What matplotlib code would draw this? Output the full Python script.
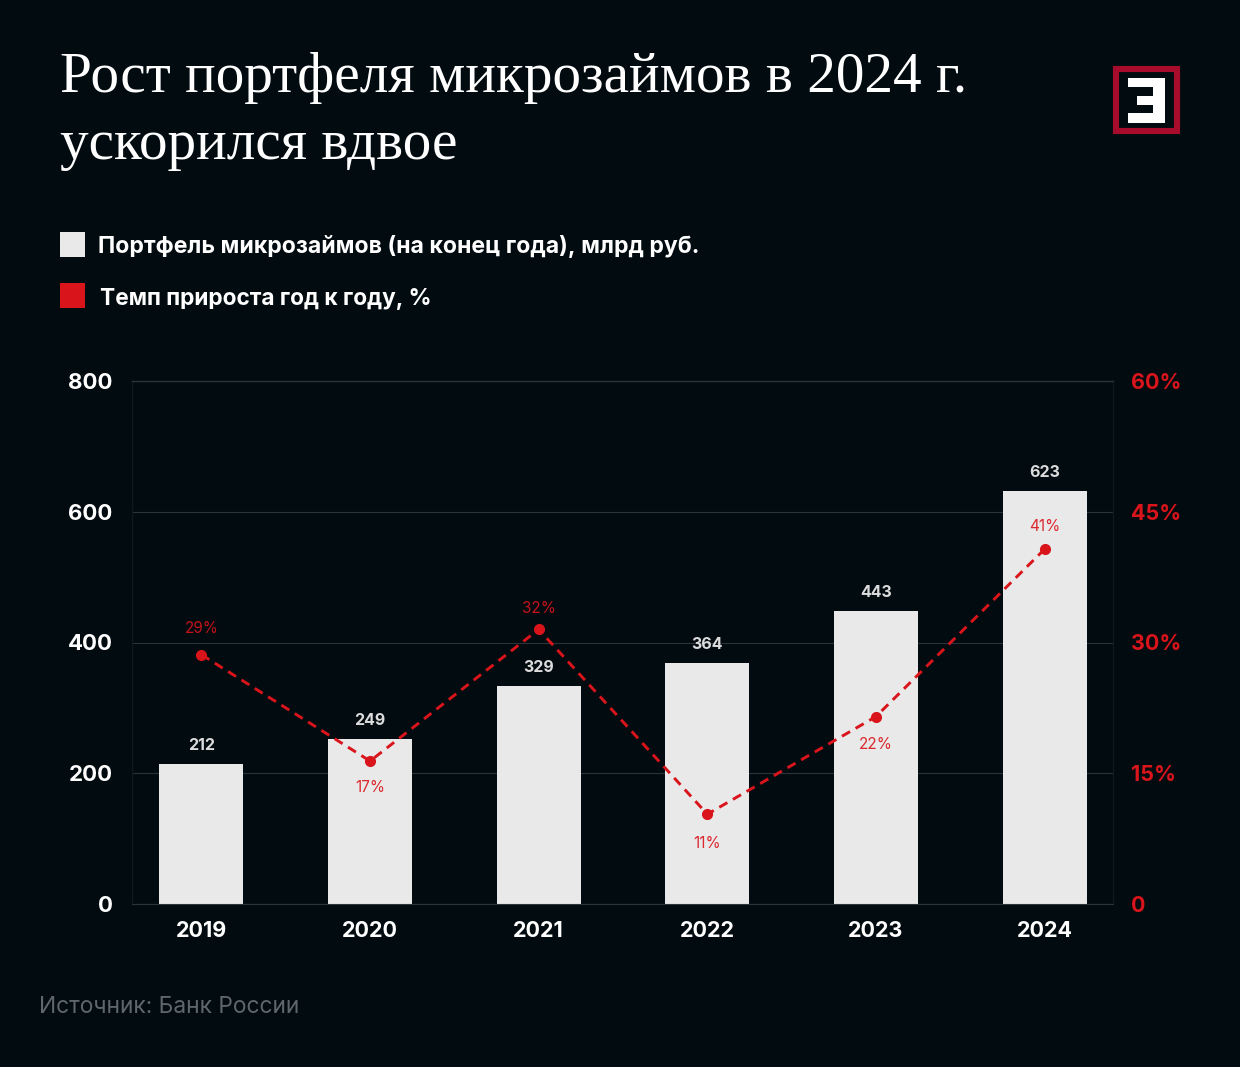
import matplotlib
matplotlib.use("Agg")
import matplotlib.pyplot as plt
from matplotlib.patches import Rectangle, Polygon

# data
years = ["2019", "2020", "2021", "2022", "2023", "2024"]
bar_heights = [214, 252, 333, 369, 448, 632]
bar_labels = ["212", "249", "329", "364", "443", "623"]
growth = [28.6, 16.4, 31.5, 10.3, 21.5, 40.7]
growth_labels = ["29%", "17%", "32%", "11%", "22%", "41%"]
left_ticks = [0, 200, 400, 600, 800]
right_ticks = [0, 15, 30, 45, 60]
right_tick_labels = ["0", "15%", "30%", "45%", "60%"]
# label above (+) or below (-) the point, in pixels
growth_offsets = [26, -26, 21, -29, -28, 23]

BG = "#020b10"
RED = "#d9141b"
BAR = "#e9e9e9"
W, H = 1240, 1067
SANS = ["Inter", "DejaVu Sans"]
SERIF = ["Liberation Serif", "DejaVu Serif"]

fig = plt.figure(figsize=(W / 100, H / 100), dpi=100, facecolor=BG)

# plot area in pixels: x 132..1113, y 381..904
ax = fig.add_axes([132 / W, 1 - 904 / H, (1113 - 132) / W, (904 - 381) / H], facecolor=BG)
x = list(range(len(years)))
ax.bar(x, bar_heights, width=0.498, color=BAR, zorder=2)
ax.set_xlim(-0.412, 5.406)
ax.set_ylim(0, 800)
ax.set_yticks(left_ticks)
ax.set_xticks(x, years)
ax.grid(axis="y", color="#2a3338", lw=0.8, zorder=1)
ax.tick_params(length=0)
ax.tick_params(axis="x", pad=12)
ax.tick_params(axis="y", pad=14)
for lab in ax.get_yticklabels():
    lab.set(color="white", fontsize=16, fontweight="bold", family=SANS)
for lab in ax.get_xticklabels():
    lab.set(color="white", fontsize=15.5, fontweight="bold", family=SANS)
for s in ["top", "left", "right"]:
    ax.spines[s].set(color="#10181d", lw=1)
ax.spines["top"].set_color("#2a3338")
ax.spines["bottom"].set(color="#2a3338", lw=0.8)

ax2 = ax.twinx()
ax2.set_ylim(0, 60)
ax2.set_yticks(right_ticks, right_tick_labels)
ax2.tick_params(length=0, pad=13)
for lab in ax2.get_yticklabels():
    lab.set(color=RED, fontsize=15.5, fontweight="bold", family=SANS)
for s in ax2.spines.values():
    s.set_visible(False)
ax2.plot(x, growth, color=RED, lw=2.1, ls=(0, (3.2, 2.2)), marker="o", ms=7, zorder=5)

for i in x:
    ax.annotate(bar_labels[i], (i, bar_heights[i]), xytext=(0, 11), textcoords="offset pixels",
                ha="center", va="bottom", color="#dcdcdc", fontsize=11.5, fontweight="bold", family=SANS)
    ax2.annotate(growth_labels[i], (i, growth[i]), xytext=(0, growth_offsets[i]), textcoords="offset pixels",
                 ha="center", va="center", color=RED, fontsize=11, family=SANS, alpha=0.9)

# overlay in pixel coordinates for title, legend, logo, source
ov = fig.add_axes([0, 0, 1, 1], facecolor="none")
ov.set_xlim(0, W)
ov.set_ylim(H, 0)
ov.axis("off")

ov.text(60, 78, "Рост портфеля микрозаймов в 2024 г.", color="white", fontsize=41.2,
        family=SERIF, va="center")
ov.text(60, 145, "ускорился вдвое", color="white", fontsize=41.2, family=SERIF, va="center")

ov.add_patch(Rectangle((60, 232), 25, 25, color=BAR, lw=0))
ov.add_patch(Rectangle((60, 283), 25, 25, color=RED, lw=0))
ov.text(98, 246.5, "Портфель микрозаймов (на конец года), млрд руб.", color="white",
        fontsize=16.6, fontweight="bold", family=SANS, va="center")
ov.text(100, 298.5, "Темп прироста год к году, %", color="white",
        fontsize=16.3, fontweight="bold", family=SANS, va="center")

ov.text(39, 1007, "Источник: Банк России", color="#5f676b", fontsize=16.4, family=SANS, va="center")

# logo
ov.add_patch(Rectangle((1116, 69), 61, 62, fill=False, ec="#a80c2d", lw=4.4))
ov.add_patch(Polygon([(1128, 78), (1165, 78), (1165, 123), (1128, 123), (1128, 113), (1153, 113),
                      (1153, 105), (1137, 105), (1137, 96), (1153, 96), (1153, 87), (1128, 87)],
                     closed=True, color="white", lw=0))

fig.savefig("out.png", dpi=100, facecolor=BG)
